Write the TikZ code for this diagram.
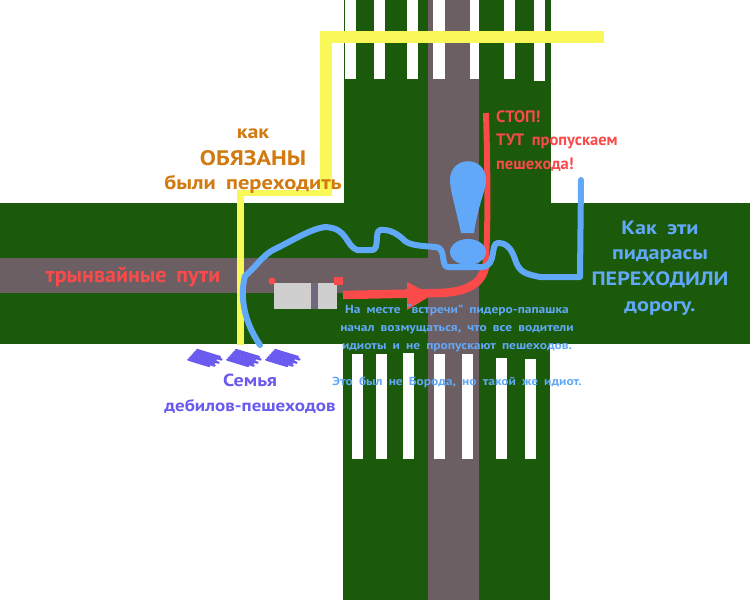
\documentclass[tikz,border=0pt]{standalone}
\usepackage{fontspec}
\setmainfont[WordSpace=1.8,FakeStretch=1.15]{PT Sans}
\newfontfamily\narrowfont[WordSpace=1.8]{PT Sans}
\definecolor{roadgreen}{HTML}{1A5A0A}
\definecolor{railgrey}{HTML}{6B5F64}
\definecolor{pathyellow}{HTML}{F8F858}
\definecolor{pathblue}{HTML}{62A8F8}
\definecolor{pathred}{HTML}{FA4A4A}
\definecolor{familyviolet}{HTML}{6A5AF0}
\definecolor{noteorange}{HTML}{D07A10}
\definecolor{carpart}{HTML}{CFCFCF}
\definecolor{carstrip}{HTML}{70687C}
\tikzset{
    note/.style 2 args={align=center, inner sep=0pt, font=\bfseries\fontsize{#1}{#2}\selectfont}
}
\begin{document}
\begin{tikzpicture}[x=1pt, y=-1pt]

    % Define the frame of the picture
    \useasboundingbox (0,0) rectangle (750,600);
    \fill[white] (0,0) rectangle (750,600);

    % Draw the green roads
    \fill[roadgreen] (0,203) rectangle (750,344);
    \fill[roadgreen] (344,0) rectangle (551,203);
    \fill[roadgreen] (343,344) rectangle (550,600);

    % Draw the tram tracks
    \fill[railgrey] (428,0) rectangle (479,600);
    \fill[railgrey] (0,258) rectangle (428,293);

    % Draw the crossing at the top
    \foreach \xa/\xb/\yb in {345/356/79, 374/385/79, 407/418/79, 433/445/79, 470/479/79, 504/515/79, 534/545/81}
        \fill[white] (\xa,0) rectangle (\xb,\yb);

    % Draw the crossing at the bottom
    \foreach \xa/\xb/\ya in {352/363/354, 376/387/354, 403/414/353, 434/445/354, 462/473/354, 496/507/358, 525/536/359}
        \fill[white] (\xa,\ya) rectangle (\xb,459);

    % Draw the way it should have been
    \draw[pathyellow, line width=12pt] (604,37) -- (326,37) -- (326,195);
    \draw[pathyellow, line width=6pt] (332,192.5) -- (240.5,192.5);
    \draw[pathyellow, line width=7pt] (240.5,189.5) -- (240.5,345);

    % Draw the car
    \fill[carpart] (274,283) rectangle (311,309);
    \fill[carpart] (318,283) rectangle (337,309);
    \fill[carstrip] (311,283) rectangle (318,309);
    \fill[pathred] (272,281) circle (3.5);
    \fill[pathred] (334,277) rectangle (343,285);

    % Draw the way of the car
    \draw[pathred, line width=8.5pt, line join=round] (343,295) -- (440,293) .. controls (463,292) and (470,287) .. (477,282)
        .. controls (482,277) and (484,272) .. (485,267);
    \draw[pathred, line width=6pt] (485,268) .. controls (488,245) and (488,180) .. (486,113);
    \fill[pathred] (407,282) -- (432,295) -- (407,310) -- cycle;

    % Draw the exclamation mark
    \fill[pathblue] (461,233) .. controls (455,205) and (450,190) .. (450,180) .. controls (450,155) and (486,155) .. (486,180)
        .. controls (486,190) and (478,205) .. (474,233) -- cycle;
    \fill[pathblue] (468,252) ellipse (18 and 13);

    % Draw the way of the family
    \draw[pathblue, line width=6pt, line cap=round, line join=round] (581,180) -- (580,277) -- (540,277)
        .. controls (525,274) and (520,272) .. (516,262) .. controls (512,250) and (508,243) .. (498,243)
        .. controls (490,243) and (497,265) .. (483,267) -- (447,267) .. controls (441,265) and (446,248) .. (436,247)
        .. controls (420,246) and (410,245) .. (405,241) .. controls (398,234) and (390,229) .. (380,230)
        .. controls (374,232) and (380,250) .. (372,250) -- (357,250) .. controls (345,245) and (348,228) .. (325,227)
        .. controls (310,229) and (290,242) .. (273,250) .. controls (262,256) and (255,268) .. (245,276)
        .. controls (240,295) and (243,320) .. (260,345);

    % Draw the family
    \foreach \shiftx in {0,39,78}
        \foreach \i/\ext in {0/0, 1/3, 2/-1, 3/3, 4/0, 5/2, 6/-2}
            \draw[familyviolet, line width=2.3pt, line cap=round, shift={(\shiftx-\i*1.45,\i*1.6)}] (197,350) -- (220+\ext,357+\ext*0.3);

    % Define the labels
    \node[note={19}{19}, text=noteorange] (must) at (253,134) {как};
    \node[note={21}{21}, text=noteorange] (obliged) at (253,158) {ОБЯЗАНЫ};
    \node[note={19.5}{19.5}, text=noteorange] (cross) at (253,184) {были  переходить};
    \node[note={22}{22}, text=pathred] (tracks) at (133,277) {\narrowfont трынвайные  пути};
    \node[note={16.5}{23.5}, text=pathred, align=left, anchor=west] (stop) at (496,141) {\narrowfont СТОП!\\\narrowfont ТУТ  пропускаем\\\narrowfont пешехода!};
    \node[note={19.3}{25.6}, text=pathblue] (howcrossed) at (660,268) {Как  эти\\пидарасы\\ПЕРЕХОДИЛИ\\дорогу.};
    \node[note={11.7}{18}, text=pathblue] (meeting) at (457,328) {На месте “встречи” пидеро-папашка\\начал возмущаться, что все водители\\идиоты и не пропускают пешеходов.};
    \node[note={11.7}{18}, text=pathblue] (idiot) at (457,382) {Это был не Борода, но такой же идиот.};
    \node[note={17.5}{17.5}, text=familyviolet] (family) at (250,380) {Семья};
    \node[note={16.5}{16.5}, text=familyviolet] (idiots) at (250,406) {дебилов-пешеходов};

\end{tikzpicture}
\end{document}
